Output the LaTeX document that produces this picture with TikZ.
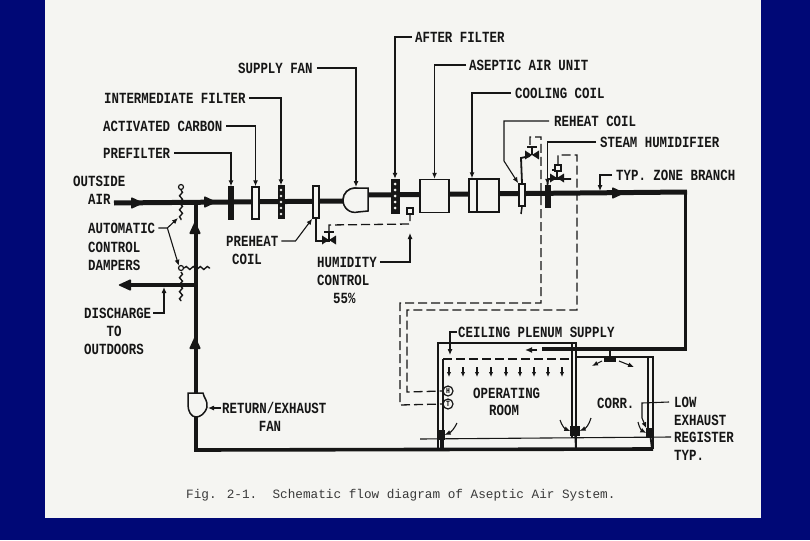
\documentclass[tikz,border=0pt]{standalone}
\usepackage{fontspec}
\newfontfamily\lettering[FakeStretch=0.8]{Liberation Mono}
\newfontfamily\captionfont{Liberation Mono}
\usetikzlibrary{positioning, calc, arrows.meta, decorations.pathmorphing}
\definecolor{slidenavy}{RGB}{0,8,118}
\definecolor{paper}{RGB}{245,245,242}
\definecolor{ink}{RGB}{22,22,22}
\tikzset{
  lbl/.style={inner sep=0pt, text=ink, font=\lettering\bfseries\fontsize{15.5}{15.5}\selectfont},
  leader/.style={draw=ink, line width=1.1pt, -{Latex[length=6pt,width=5pt]}},
  rule/.style={draw=ink, line width=1.1pt},
  duct/.style={draw=ink, line width=5pt, line join=miter},
  retduct/.style={draw=ink, line width=3.6pt, line join=miter},
  ctrl/.style={draw=ink, line width=1.3pt, dash pattern=on 9pt off 4pt},
  wall/.style={draw=ink, line width=1.2pt},
  whitebox/.style={draw=ink, fill=paper, line width=1.5pt, inner sep=0pt},
  blackbar/.style={draw=ink, fill=ink, inner sep=0pt},
  damper/.style={draw=ink, line width=1.4pt, decorate, decoration={snake, amplitude=1.5pt, segment length=7pt}},
  dial/.style={circle, draw=ink, fill=paper, line width=1.2pt, inner sep=0pt, minimum size=10pt, font=\lettering\bfseries\fontsize{8}{8}\selectfont},
  flowhead/.pic={\fill[ink, rounded corners=1pt] (-6,-6) -- (7,0) -- (-6,6) -- cycle;},
  valve/.pic={\fill[ink] (-7,-4.5) -- (7,4.5) -- (7,-4.5) -- (-7,4.5) -- cycle;
    \draw[ink, line width=1.6pt] (0,0) -- (0,-8);
    \draw[ink, line width=2.6pt] (-5,-8) -- (5,-8);},
  downtick/.pic={\draw[ink, line width=1.1pt, -{Latex[length=5pt,width=4.5pt]}] (0,-5) -- (0,5);}
}

\begin{document}
\begin{tikzpicture}[x=1pt, y=-1pt]

    % ================= slide and paper =================
    \useasboundingbox (0,0) rectangle (810,540);
    \fill[slidenavy] (0,0) rectangle (810,540);
    \fill[paper] (45,0) rectangle (761,518);

    % ================= duct points =================
    \coordinate (airIn) at (114,203);
    \coordinate (teeTop) at (196,202);
    \coordinate (fanIn) at (345,201);
    \coordinate (fanOut) at (366,195);
    \coordinate (ductEnd) at (687,192);
    \coordinate (roomIn) at (542,349);
    \coordinate (teeOut) at (196,285);
    \coordinate (dischargeEnd) at (124,285);
    \coordinate (retCorner) at (196,450);
    \coordinate (retEnd) at (653,449);

    % ================= ducts =================
    \draw[duct] (airIn) -- (fanIn);
    \draw[duct] (fanOut) -- (ductEnd);
    \draw[retduct] (685.5,192) |- (roomIn);
    \draw[retduct] (teeTop) -- (196,393);
    \draw[retduct] (teeOut) -- (dischargeEnd);
    \draw[retduct] (196,417) -- (retCorner) -- (retEnd);
    \draw[ink, line width=2pt, -{Latex[length=7pt,width=6pt]}] (537,350) -- (525,350);

    \pic at (137,203) {flowhead};
    \pic at (210,202) {flowhead};
    \pic at (618,193) {flowhead};
    \pic at (125,285) [rotate=180] {flowhead};
    \pic at (195,228) [rotate=90] {flowhead};
    \pic at (195,343) [rotate=90] {flowhead};

    % ================= equipment on the duct =================
    \node[blackbar, minimum width=5pt, minimum height=33pt] (PF) at (231,203) {};
    \node[whitebox, minimum width=7pt, minimum height=32pt] (AC) at (255.5,203) {};
    \node[blackbar, minimum width=6pt, minimum height=33pt] (IF) at (281,202) {};
    \node[whitebox, minimum width=6pt, minimum height=32pt] (PH) at (316,202) {};
    \node[blackbar, minimum width=8pt, minimum height=34pt] (AF) at (395,196) {};
    \node[whitebox, minimum width=29pt, minimum height=33pt] (AU) at (434.5,196) {};
    \node[whitebox, minimum width=30pt, minimum height=33pt] (CC) at (484,195.5) {};
    \draw[ink, line width=1.5pt] (477,179) -- (477,212);
    \node[whitebox, minimum width=6pt, minimum height=22pt] (RH) at (522,195) {};
    \node[blackbar, minimum width=5pt, minimum height=22pt] (SH) at (547.5,196) {};
    \foreach \yy in {-12,-6,0,6,12} {
        \fill[paper] ($(IF)+(0,\yy)$) circle (1.3);
        \fill[paper] ($(AF)+(0,\yy)$) circle (1.5);
    }

    % supply fan and return fan
    \node[whitebox, circle, minimum size=24pt] (SF) at (355,200) {};
    \draw[ink, fill=paper, line width=1.5pt] (355,188) -- (368,188) -- (368,211) -- (358,212) .. controls (350,214) and (343,208) .. (343,200) .. controls (343,193) and (349,188) .. (355,188) -- cycle;
    \coordinate (SFtop) at (356,187);
    \node[inner sep=0pt, minimum size=19pt] (RF) at (197,405) {};
    \draw[ink, fill=paper, line width=1.5pt] (188,393) -- (203,393) .. controls (204,398) and (208,401) .. (207,407) .. controls (205,414) and (200,417) .. (196,417) .. controls (191,417) and (188,411) .. (188,405) -- cycle;

    % ================= valves and sensors =================
    \draw[ink, line width=1.8pt] (PH.south) -- (316,241) -- (330,241);
    \pic at (329,240) {valve};
    \draw[ink, line width=1.5pt] (RH.south) -- (521,214);
    \draw[ink, line width=1.8pt] (RH.north) -- (521,158) -- (530,156);
    \pic at (532,155) {valve};
    \draw[ink, line width=1.8pt] (SH.north) -- (548,179) -- (571,179);
    \pic at (557,178) {valve};
    \node[draw=ink, fill=paper, line width=1.2pt, inner sep=0pt, minimum size=6pt] (sensorS) at (558,168) {};
    \node[draw=ink, fill=paper, line width=1.2pt, inner sep=0pt, minimum size=6pt] (sensorH) at (410,211) {};

    % ================= control lines =================
    \node[dial] (dialH) at (448,391) {H};
    \node[dial] (dialT) at (448,404) {T};
    \draw[ctrl] (329,232) -- (329,225) -- (410,224) -- (sensorH.south);
    \draw[ctrl] (530,145) -- (530,137) -- (541,137) -- (541,303) -- (400,303) -- (400,405) -- (dialT.west);
    \draw[ctrl] (sensorS.north) -- (558,155) -- (577,155) -- (577,310) -- (407,310) -- (407,392) -- (dialH.west);

    % ================= dampers =================
    \node[dial, minimum size=5pt] (dampA) at (181,187) {};
    \node[dial, minimum size=5pt] (dampB) at (181,268) {};
    \draw[damper] (dampA.south) -- (181,220);
    \draw[damper] (dampB.east) -- (210,268);
    \draw[damper] (181,272) -- (181,301);

    % ================= rooms =================
    \draw[wall] (438,448) -- (438,343) -- (576,343) -- (576,448);
    \draw[wall] (443,448) -- (443,359);
    \draw[ctrl] (443,359) -- (572,359);
    \draw[wall] (572,343) -- (572,438);
    \draw[wall] (576,357) -- (653,357) -- (653,449);
    \draw[wall] (648,357) -- (648,438);
    \draw[wall, line width=1.8pt] (610,349) -- (610,358);
    \fill[ink] (604,358) rectangle (616,362);
    \draw[leader] (602,361) -- (592,366);
    \draw[leader] (619,361) -- (634,367);
    \foreach \xx in {449,463,477,491,506,520,534,548,562} {
        \pic at (\xx,372) {downtick};
    }

    % exhaust registers
    \node[blackbar, minimum width=7pt, minimum height=9pt] (regA) at (441,435) {};
    \node[blackbar, minimum width=9pt, minimum height=9pt] (regB) at (575,431) {};
    \node[blackbar, minimum width=7pt, minimum height=9pt] (regC) at (650,433) {};
    \draw[retduct, line width=1.8pt] (regA) -- (441,449);
    \draw[retduct, line width=1.8pt] (regB) -- (576,449);
    \draw[retduct, line width=1.8pt] (regC) -- (652,449);
    \draw[leader] (457,423) to[bend left=20] (regA.east);
    \draw[leader] (560,420) to[bend right=25] (regB.west);
    \draw[leader] (591,418) to[bend left=25] (regB.east);
    \draw[leader] (638,422) to[bend right=25] (regC.west);

    % ================= texts =================
    \node[lbl, anchor=west] (tOutside) at (73,181) {OUTSIDE};
    \node[lbl, anchor=west] (tAir) at (88,199) {AIR};
    \node[lbl, anchor=west] (tPrefilter) at (103,153) {PREFILTER};
    \node[lbl, anchor=west] (tCarbon) at (103,126) {ACTIVATED CARBON};
    \node[lbl, anchor=west] (tInter) at (104,98) {INTERMEDIATE FILTER};
    \node[lbl, anchor=west] (tFan) at (238,68) {SUPPLY FAN};
    \node[lbl, anchor=west] (tAfter) at (415,37) {AFTER FILTER};
    \node[lbl, anchor=west] (tAseptic) at (469,65) {ASEPTIC AIR UNIT};
    \node[lbl, anchor=west] (tCooling) at (515,93) {COOLING COIL};
    \node[lbl, anchor=west] (tReheat) at (554,121) {REHEAT COIL};
    \node[lbl, anchor=west] (tSteam) at (600,142) {STEAM HUMIDIFIER};
    \node[lbl, anchor=west] (tZone) at (616,175) {TYP. ZONE BRANCH};
    \node[lbl, anchor=west] (tAuto) at (88,228) {AUTOMATIC};
    \node[lbl, anchor=west] (tControl) at (88,247) {CONTROL};
    \node[lbl, anchor=west] (tDampers) at (88,265) {DAMPERS};
    \node[lbl, anchor=west] (tDischarge) at (84,313) {DISCHARGE};
    \node[lbl] (tTo) at (114,331) {TO};
    \node[lbl, anchor=west] (tOutdoors) at (84,349) {OUTDOORS};
    \node[lbl, anchor=west] (tPreheat) at (226,241) {PREHEAT};
    \node[lbl] (tCoil) at (247,259) {COIL};
    \node[lbl, anchor=west] (tHumidity) at (317,262) {HUMIDITY};
    \node[lbl, anchor=west] (tHumControl) at (317,280) {CONTROL};
    \node[lbl, anchor=west] (tPercent) at (333,298) {55\%};
    \node[lbl, anchor=west] (tReturn) at (222,408) {RETURN/EXHAUST};
    \node[lbl] (tRetFan) at (270,426) {FAN};
    \node[lbl, anchor=west] (tPlenum) at (458,332) {CEILING PLENUM SUPPLY};
    \node[lbl, anchor=west] (tOperating) at (473,393) {OPERATING};
    \node[lbl, anchor=west] (tRoom) at (489,410) {ROOM};
    \node[lbl, anchor=west] (tCorr) at (597,403) {CORR.};
    \node[lbl, anchor=west] (tLow) at (674,402) {LOW};
    \node[lbl, anchor=west] (tExhaust) at (674,420) {EXHAUST};
    \node[lbl, anchor=west] (tRegister) at (674,437) {REGISTER};
    \node[lbl, anchor=west] (tTyp) at (674,455) {TYP.};
    \node[inner sep=0pt, anchor=west, text=ink!85, font=\captionfont\fontsize{12.7}{12.7}\selectfont] (tCaption) at (186,495) {Fig. 2-1.\ \ Schematic flow diagram of Aseptic Air System.};

    % ================= leaders =================
    \draw[leader] ([xshift=4pt]tPrefilter.east) -| (PF.north);
    \draw[leader] ([xshift=4pt]tCarbon.east) -| (AC.north);
    \draw[leader] ([xshift=3pt]tInter.east) -| (IF.north);
    \draw[leader] ([xshift=4pt]tFan.east) -| (SFtop);
    \draw[leader] ([xshift=-3pt]tAfter.west) -| (AF.north);
    \draw[leader] ([xshift=-3pt]tAseptic.west) -| (AU.north);
    \draw[leader] ([xshift=-4pt]tCooling.west) -| ([xshift=-12pt]CC.north);
    \draw[leader] ([xshift=-5pt]tReheat.west) -| (504,161) -- (RH.north west);
    \draw[leader] ([xshift=-4pt]tSteam.west) -| (SH.north);
    \draw[leader] ([xshift=-4pt]tZone.west) -| (600,191);
    \draw[leader] ([xshift=3pt]tAuto.east) -- ++(9,0) -- (178,218);
    \draw[leader] ([xshift=12pt]tAuto.east) -- (dampB.north west);
    \draw[leader] ([xshift=2pt]tDischarge.east) -| (164,287);
    \draw[leader] ([xshift=3pt]tPreheat.east) -- ++(14,0) -- (PH.south west);
    \draw[leader] ([xshift=3pt]tHumidity.east) -| (410,233);
    \draw[leader] ([xshift=-1pt]tReturn.west) -- (208,408);
    \draw[leader] ([xshift=-1pt]tPlenum.west) -| (450,355);
    \draw[leader] ([xshift=-5pt]tLow.west) -- (642,403) -- (642,418) -- (regC.north west);
    \draw[rule] ([xshift=-3pt]tRegister.west) -- (420,439);

\end{tikzpicture}
\end{document}
